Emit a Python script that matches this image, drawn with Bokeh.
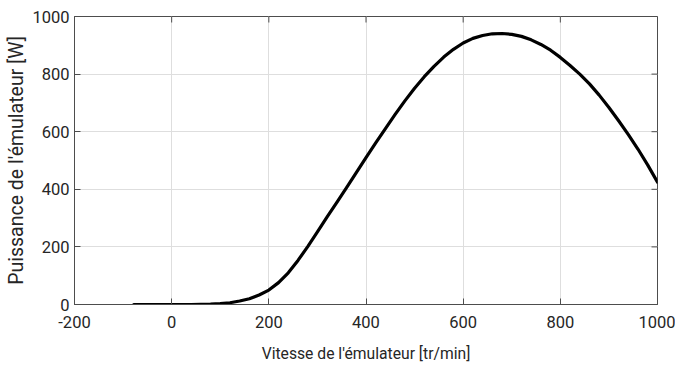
from bokeh.plotting import figure
from bokeh.models import Range1d, FixedTicker, ColumnDataSource
from bokeh.embed import file_html
from bokeh.resources import INLINE

# Data
vitesse = [-78, -40, 0, 40, 60, 80, 100, 120, 140, 160, 180, 200, 220, 240, 260, 280,
           300, 320, 340, 360, 380, 400, 420, 440, 460, 480, 500, 520, 540, 560,
           580, 600, 620, 640, 660, 680, 700, 720, 740, 760, 780, 800, 820, 840,
           860, 880, 900, 920, 940, 960, 980, 1000]
puissance = [0, 0, 0, 0, 0.3, 1, 3, 6, 12, 20, 33, 50, 76, 110, 153, 201,
             252, 304, 355, 406, 458, 510, 561, 611, 660, 707, 751, 791, 827, 859,
             886, 908, 924, 934, 940, 941, 938, 931, 919, 903, 883, 858, 830, 800,
             766, 727, 684, 638, 590, 539, 484, 425]

x_ticks = [-200, 0, 200, 400, 600, 800, 1000]
y_ticks = [0, 200, 400, 600, 800, 1000]
x_min, x_max = -200, 1000
y_min, y_max = 0, 1000

FONT = "Roboto"
TXT = "#262626"
AX = "#4d4d4d"

p = figure(width=675, height=365, output_backend="svg", toolbar_location=None,
           x_range=Range1d(x_min, x_max), y_range=Range1d(y_min, y_max),
           min_border_left=74, min_border_right=18, min_border_top=16,
           min_border_bottom=61, background_fill_color="white",
           border_fill_color="white")
p.outline_line_color = AX
p.outline_line_width = 1

p.xaxis.ticker = FixedTicker(ticks=x_ticks)
p.yaxis.ticker = FixedTicker(ticks=y_ticks)
p.xgrid.ticker = FixedTicker(ticks=x_ticks)
p.ygrid.ticker = FixedTicker(ticks=y_ticks)
p.grid.grid_line_color = "#dedede"
p.grid.grid_line_width = 1

# plain hyphen-minus in the tick labels, as in the reference
p.xaxis.major_label_overrides = {t: str(t) for t in x_ticks}
p.yaxis.major_label_overrides = {t: str(t) for t in y_ticks}

# inward ticks on the top and right edges of the box
p.ray(x=x_ticks, y=[y_max] * len(x_ticks), length=6, length_units="screen",
      angle=-90, angle_units="deg", line_color=AX, line_width=1)
p.ray(x=[x_max] * len(y_ticks), y=y_ticks, length=6, length_units="screen",
      angle=180, angle_units="deg", line_color=AX, line_width=1)

src = ColumnDataSource(dict(x=vitesse, y=puissance))
p.line("x", "y", source=src, line_color="black", line_width=3.2,
       line_join="round", line_cap="round")

for ax in (p.xaxis[0], p.yaxis[0]):
    ax.major_tick_in = 6
    ax.major_tick_out = 0
    ax.minor_tick_line_color = None
    ax.axis_line_color = AX
    ax.major_tick_line_color = AX
    ax.major_label_text_font = FONT
    ax.major_label_text_font_size = "16.5px"
    ax.major_label_text_color = TXT
    ax.axis_label_text_font = FONT
    ax.axis_label_text_font_style = "normal"
    ax.axis_label_text_color = TXT

p.xaxis.axis_label = "Vitesse de l'émulateur [tr/min]"
p.yaxis.axis_label = "Puissance de l'émulateur [W]"
p.xaxis.axis_label_text_font_size = "15.7px"
p.yaxis.axis_label_text_font_size = "19.5px"
p.xaxis.major_label_standoff = 11
p.xaxis.axis_label_standoff = 13
p.yaxis.major_label_standoff = 5
p.yaxis.axis_label_standoff = 1

open("out.html", "w").write(file_html(p, INLINE))
